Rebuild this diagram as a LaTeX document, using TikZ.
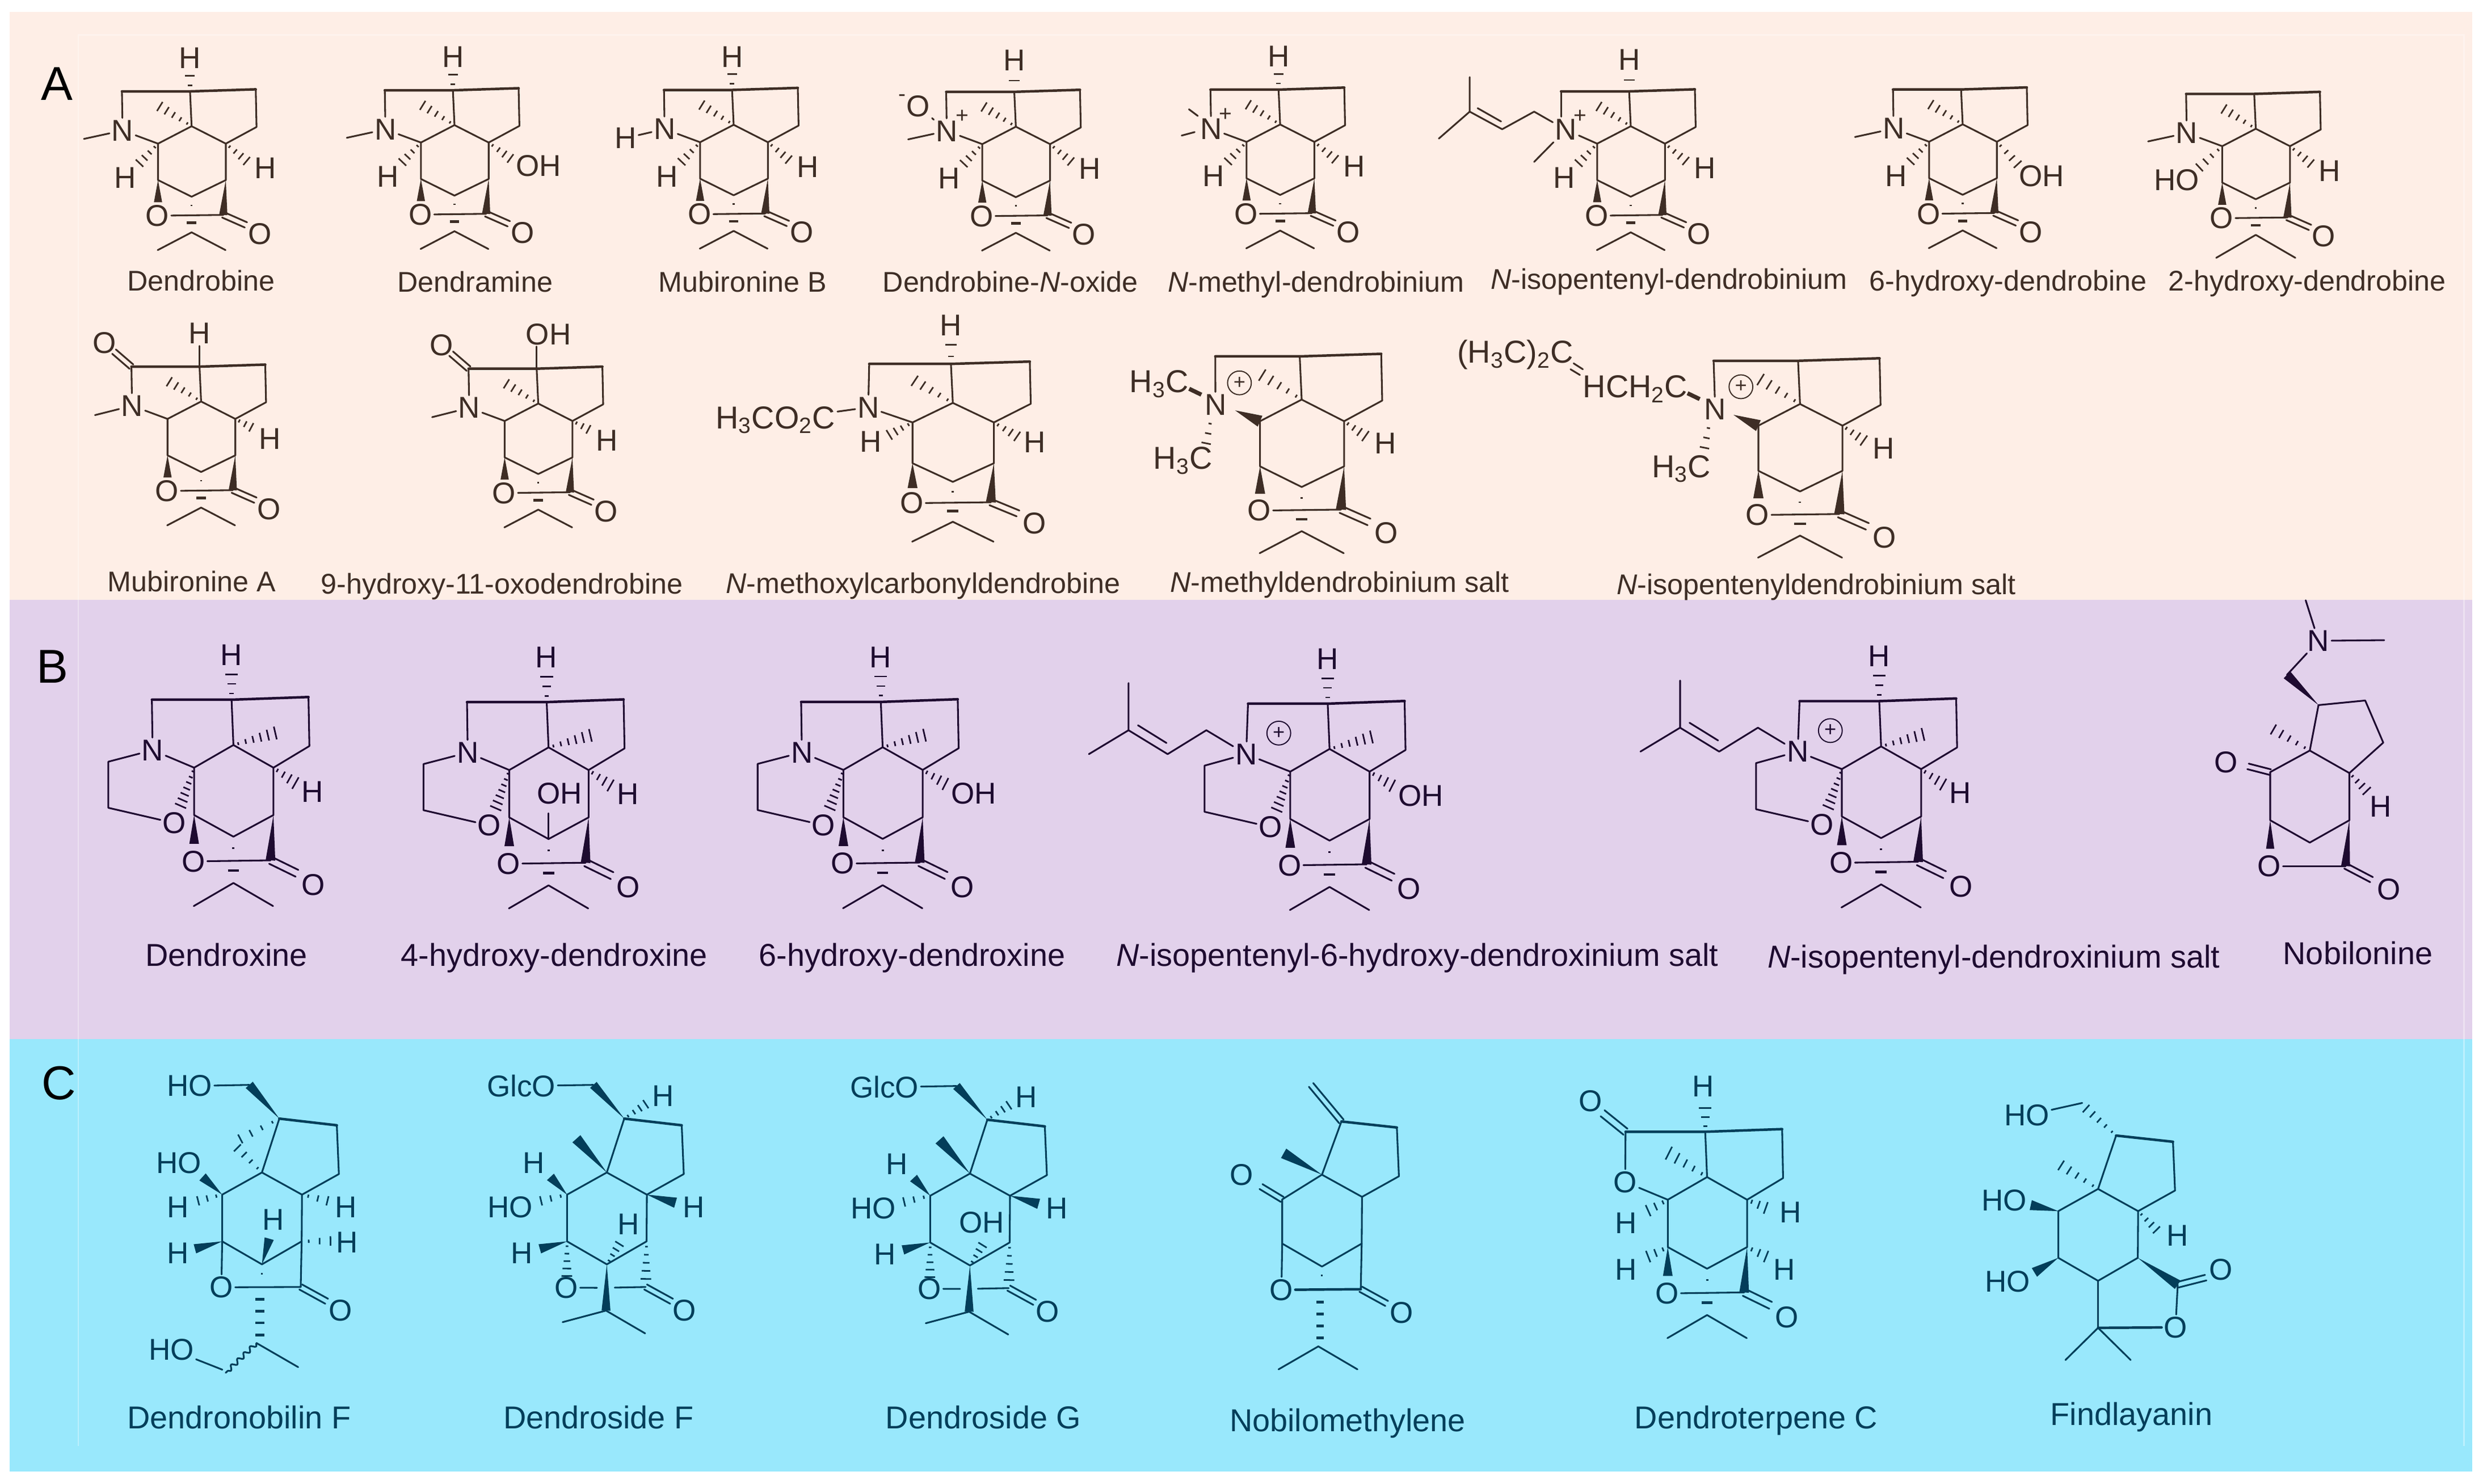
\documentclass[tikz,border=0pt]{standalone}
\usepackage{fontspec}
\setmainfont{Liberation Sans}
\usetikzlibrary{calc,decorations.pathmorphing}
\definecolor{bgA}{HTML}{FEEEE6}
\definecolor{bgB}{HTML}{E2D1EB}
\definecolor{bgC}{HTML}{99E8FC}
\definecolor{inkA}{HTML}{3E2D25}
\definecolor{inkB}{HTML}{1E0B30}
\definecolor{inkC}{HTML}{033E5A}
\colorlet{bcol}{inkA}
\newcommand\atomfont{\fontsize{19}{19}\selectfont}
\tikzset{
  bond/.style={draw=bcol,line width=1.1pt,line join=round,line cap=round},
  thk/.style={draw=bcol,line width=1.6pt,line join=round,line cap=round},
  hashl/.style={draw=bcol,line width=1pt},
  dashb/.style={draw=bcol,line width=1.6pt},
  atom/.style={text=bcol,inner sep=1.2pt,font=\atomfont},
  biga/.style={text=bcol,inner sep=1.2pt,font=\fontsize{20}{20}\selectfont},
  chgs/.style={text=bcol,inner sep=0pt,font=\fontsize{14}{14}\selectfont},
  plusc/.style={circle,draw=bcol,line width=.7pt,minimum size=15pt,inner sep=0pt,text=bcol,font=\fontsize{13}{13}\selectfont},
  panel/.style={font=\fontsize{30}{30}\selectfont,text=black,inner sep=0pt},
  capA/.style={anchor=base,text=inkA,inner sep=0pt,font=\fontsize{18}{20}\selectfont},
  capB/.style={anchor=base,text=inkB,inner sep=0pt,font=\fontsize{20}{22}\selectfont},
  capC/.style={anchor=base,text=inkC,inner sep=0pt,font=\fontsize{20}{22}\selectfont},
  mol/.style n args={4}{shift={(#1,#2)},xscale=#3,yscale=#4}
}
\newcommand\atm[3]{\node[atom] (#1) at (#2) {#3};}
\newcommand\bigat[3]{\node[biga] (#1) at (#2) {#3};}
\newcommand\hsh[4]{\foreach \hk in {1,...,#3}{%
  \pgfmathsetmacro\hT{(\hk-0.35)/#3}\pgfmathsetmacro\hW{#4*(\hT+.12)}%
  \draw[hashl] ($(#1)!\hT!(#2)!\hW pt!90:(#2)$) -- ($(#1)!\hT!(#2)!\hW pt!-90:(#2)$);}}
\newcommand\wdg[3][2.6]{\fill[bcol] (#2) -- ($(#3)!#1 pt!90:(#2)$) -- ($(#3)!#1 pt!-90:(#2)$) -- cycle;}
\newcommand\dbl[3][1.8]{\draw[bond] ($(#2)!#1 pt!90:(#3)$) -- ($(#3)!#1 pt!-90:(#2)$);
  \draw[bond] ($(#2)!#1 pt!-90:(#3)$) -- ($(#3)!#1 pt!90:(#2)$);}
\newcommand\corepts{\coordinate (C) at (0,0);\coordinate (T) at (-1,-22);\coordinate (TL) at (-44,-22);
  \coordinate (TR) at (40.5,-23.3);\coordinate (R) at (41,.5);\coordinate (L) at (-21.2,11);
  \coordinate (RR) at (21.6,11);\coordinate (LL) at (-21.2,34);\coordinate (LR) at (21.6,34);
  \coordinate (B) at (0,44.5);\coordinate (K) at (20,56);\coordinate (AP) at (0,67);
  \coordinate (IL) at (-21.4,78.2);\coordinate (IR) at (21.4,78.2);}
\newcommand\ringb{\draw[bond] (T)--(C)--(L)--(LL)--(B)--(LR)--(RR)--(C);\draw[bond] (RR)--(R)--(TR);\draw[thk] (TL)--(T)--(TR);}
\newcommand\lact{\atm{oR}{-21.6,56.5}{O}\atm{oX}{43,68}{O}\draw[bond] (oR)--(K);\dbl{K}{34.3,62.3}\wdg{LL}{-21.2,48}\wdg{LR}{K}}
\newcommand\isob{\draw[hashl] (-.6,50)--(.6,50);\draw[dashb] (-3,61)--(3,61);\draw[bond] (IL)--(AP)--(IR);}
\newcommand\methl{\hsh{C}{-21.6,-13.4}{5}{3.2}}
\newcommand\Hup{\atm{hT}{-1,-43}{H}\hsh{T}{-1,-34}{2}{3.2}}
\newcommand\Hl{\hsh{L}{-34,24.5}{4}{3.2}\atm{hL}{-42,32.6}{H}}
\newcommand\Hr{\hsh{RR}{36,23}{4}{3.2}\atm{hR}{46.7,26.6}{H}}
\newcommand\Nbase{\atm{nN}{-43.6,2.7}{N}\draw[bond] (TL)--(nN);\draw[bond] (nN)--(L);}
\newcommand\base{\corepts\ringb\lact\isob\methl}
% panel B core
\newcommand\BHup{\hsh{T}{-1,-36}{3}{3.4}\atm{hT}{-1.2,-43.8}{H}}
\newcommand\BHr{\hsh{RR}{34.6,19.2}{4}{3.2}\atm{hR}{42.7,22.6}{H}}
\newcommand\BOHr{\hsh{RR}{35,18.5}{4}{3.2}\atm{oH}{49.2,22.6}{OH}}
\newcommand\Bchain{\draw[bond] (nN)--(-66.5,-9.1)--(-87.4,2.5)--(-108.5,-9.1)--(-108.5,-32);
  \draw[bond] (-108.5,-9.1)--(-129.9,2.5);\draw[bond] (-103.4,-11.5)--(-88,-2.9);\node[plusc] (pl) at (-27.4,-7.7) {+};}
\newcommand\Bmethr{\hsh{C}{24,-6.2}{6}{3}}
% panel C core (canvas-relative)
\newcommand\ptsC{\coordinate (C) at (0,0);\coordinate (Q) at (11,-34);\coordinate (TR) at (47.3,-29.8);
  \coordinate (R) at (48.6,1);\coordinate (L) at (-25.1,14);\coordinate (RR) at (25.3,14);
  \coordinate (LL) at (-25.1,43.5);\coordinate (LR) at (25.1,43.5);\coordinate (B) at (0,58);
  \coordinate (K) at (24.5,72.3);\coordinate (ORp) at (-25.6,72.5);}
\newcommand\ringC{\draw[bond] (Q)--(C)--(L)--(LL)--(B)--(LR)--(RR)--(C);\draw[bond] (RR)--(R)--(TR);\draw[thk] (Q)--(TR);}
\newcommand\dside[1]{\ptsC\ringC\wdg[2.8]{Q}{-8.5,-55.3}
  \atm{gl}{-54,-54.6}{GlcO}\draw[bond] (gl)--(-8.5,-55.3);
  \hsh{Q}{25.9,-44}{4}{3}\atm{hA}{35.7,-48.2}{H}
  \wdg[3.4]{C}{-19.2,-21.3}
  \wdg[3]{L}{-35.6,2.8}\atm{hB}{-46.2,-6}{H}
  \hsh{L}{-43.7,18.4}{3}{3}\atm{hoA}{-61,22}{HO}
  \wdg[3]{LL}{-42.3,48.2}\atm{hC}{-53.7,51}{H}
  \wdg[3.3]{RR}{43.4,19.1}\atm{hD}{55,22}{H}
  \hsh{B}{8.7,43.9}{4}{3}#1
  \atm{oR}{-25.6,72.7}{O}\atm{oX}{49,87}{O}
  \hsh{LL}{-25.3,67}{5}{3.2}\hsh{LR}{24.6,69}{5}{3.2}
  \draw[bond] (oR)--(-6.2,72.8);\draw[bond] (5,72.7)--(K);\dbl{K}{40.9,81.3}
  \wdg[2.8]{B}{-.5,87.2}\draw[bond] (-27.9,94.5)--(-.5,87.2)--(24.2,101.6);}
\begin{document}
\begin{tikzpicture}[x=1pt,y=-1pt]
\useasboundingbox (0,0) rectangle (1568,936.66);
\fill[white] (0,0) rectangle (1568,936.66);
\fill[bgA] (6,7.5) rectangle (1561,378.8);
\fill[bgB] (6,378.8) rectangle (1561,656);
\fill[bgC] (6,656) rectangle (1561,929);
\draw[white,opacity=.35,line width=.8pt] (49.5,913) -- (49.5,22) -- (1556,22) -- (1556,913);
\node[panel] (lA) at (36,53) {A};
\node[panel] (lB) at (33,421) {B};
\node[panel] (lC) at (37,684) {C};
%%%%%%%%%%%% PANEL A
\colorlet{bcol}{inkA}
% Dendrobine
\begin{scope}[mol={121}{79.7}{1}{1}]
\base\Nbase\draw[bond] (nN)--(-68,8);\Hup\Hl\Hr
\end{scope}
% Dendramine
\begin{scope}[mol={287}{79}{1}{1}]
\base\Nbase\draw[bond] (nN)--(-68,8);\Hup\Hl\hsh{RR}{36.6,22}{4}{3.2}\atm{oH}{53,25.7}{OH}
\end{scope}
% Mubironine B
\begin{scope}[mol={463.3}{78.8}{1}{1}]
\base\Nbase\atm{hN}{-68.3,8.4}{H}\draw[bond] (hN)--(nN);\Hup\Hl\Hr
\end{scope}
% N-oxide
\begin{scope}[mol={641.5}{80}{1}{1}]
\base\Nbase\draw[bond] (nN)--(-68,8);\atm{hT}{-1,-42}{H}\hsh{T}{-1,-33}{1}{4.5}\Hl\Hr
\atm{oN}{-61.7,-13}{O}\draw[bond] (oN)--(nN);
\node[chgs] (mi) at (-71.9,-18) {-};\node[chgs] (pl) at (-34,-6.3) {+};
\end{scope}
% N-methyl
\begin{scope}[mol={808.4}{78.6}{1}{1}]
\base\Nbase\draw[bond] (-57.6,-9.6)--(-52,-5.4);\draw[bond] (-62.2,7)--(-54,4.8);\Hup\Hl\Hr
\node[chgs] (pl) at (-34.6,-6) {+};
\end{scope}
% N-isopentenyl
\begin{scope}[mol={1029.8}{79.7}{1}{1}]
\base\atm{nN}{-41,2.2}{N}\draw[bond] (TL)--(-44,-6);\draw[bond] (nN)--(L);
\atm{hT}{-1,-42}{H}\hsh{T}{-1,-33}{1}{4.5}\Hl\Hr
\node[chgs] (pl) at (-32,-6.2) {+};
\draw[bond] (nN)--(-61,-9.2)--(-81.2,1.9)--(-101.7,-9.2)--(-101.7,-31);
\draw[bond] (-101.7,-9.2)--(-121.2,7.8);\draw[bond] (-96.7,-11.4)--(-81.9,-3);
\draw[bond] (nN)--(-61,22.5);
\end{scope}
% 6-hydroxy
\begin{scope}[mol={1239.4}{78.5}{1}{1}]
\base\Nbase\draw[bond] (nN)--(-68,8);\Hl\hsh{RR}{36,26.6}{4}{3.2}\atm{oH}{49.8,32.6}{OH}
\end{scope}
% 2-hydroxy
\begin{scope}[mol={1424.5}{81.3}{1}{1}]
\corepts\ringb\lact\methl\draw[hashl] (-.6,50)--(.6,50);\draw[dashb] (-3,61)--(3,61);
\draw[bond] (-25,81.5)--(0,67)--(25,81.5);
\Nbase\draw[bond] (nN)--(-68,8);\hsh{L}{-37,25.7}{4}{3.2}\atm{hL}{-50,32.3}{HO}\Hr
\end{scope}
% Mubironine A
\begin{scope}[mol={127}{253.5}{1}{1}]
\base\Nbase\draw[bond] (nN)--(-67,8.6);
\atm{oT}{-61,-37}{O}\dbl{TL}{-55,-31.5}
\atm{hT}{-1,-43}{H}\draw[bond] (T)--(hT);
\hsh{RR}{33,17}{3}{3}\atm{hR}{43.4,23.4}{H}
\end{scope}
% 9-hydroxy-11-oxo
\begin{scope}[mol={339.9}{254.8}{1}{1}]
\base\Nbase\draw[bond] (nN)--(-67,8.6);
\atm{oT}{-61,-37}{O}\dbl{TL}{-55,-31.5}
\atm{hT}{6.5,-43.6}{OH}\draw[bond] (T)--(-1,-36);
\hsh{RR}{33,17}{3}{3}\atm{hR}{43.4,23.4}{H}
\end{scope}
% N-methoxycarbonyl
\begin{scope}[mol={601.7}{254.4}{1.2}{1.12}]
\base\atm{nN}{-44.5,2.5}{N}\draw[bond] (TL)--(nN);\draw[bond] (nN)--(L);
\bigat{tx}{-93.3,9.7}{H\textsubscript{3}CO\textsubscript{2}C}\draw[bond] (tx)--(nN);
\atm{hT}{-1,-43.7}{H}\hsh{T}{-1,-35}{2}{3.2}
\hsh{L}{-34.6,18.7}{4}{3}\atm{hL}{-43.3,21.8}{H}
\hsh{RR}{35,19.6}{4}{3}\atm{hR}{43.1,22.3}{H}
\end{scope}
% N-methyl salt
\begin{scope}[mol={822}{252.3}{1.24}{1.24}]
\base\atm{nN}{-43.9,2.5}{N}\draw[bond] (TL)--(nN);
\wdg[3]{-33.9,5.5}{L}
\node[plusc] (pl) at (-31.7,-8.5) {+};
\bigat{tx}{-72.6,-8}{H\textsubscript{3}C}\draw[line width=2.6pt,bcol] (-57.3,-5.5)--(-51.1,-2.5);
\bigat{ty}{-60.5,31}{H\textsubscript{3}C}\hsh{-46,9}{-49,24}{3}{2.4}
\hsh{RR}{33.5,19.3}{4}{3}\atm{hR}{42.7,22.4}{H}
\end{scope}
% N-isopentenyl salt
\begin{scope}[mol={1136.7}{255.1}{1.24}{1.24}]
\base\atm{nN}{-43.2,2.7}{N}\draw[bond] (TL)--(nN);
\wdg[3]{-33.9,5.5}{L}
\node[plusc] (pl) at (-30.1,-8.8) {+};
\bigat{tx}{-83.9,-7.7}{HCH\textsubscript{2}C}\draw[line width=2.6pt,bcol] (-57.3,-5.5)--(-51.1,-2.5);
\bigat{tz}{-145,-25}{(H\textsubscript{3}C)\textsubscript{2}C}
\draw[bond] (-115.3,-20.7)--(-110.6,-17.7);\draw[bond] (-116.9,-17.7)--(-112.1,-14.8);
\bigat{ty}{-60.5,33}{H\textsubscript{3}C}\hsh{-46,9}{-49,24}{3}{2.4}
\hsh{RR}{33.5,19.3}{4}{3}\atm{hR}{42.7,22.6}{H}
\end{scope}
\node[capA] (c1) at (127,183.5) {Dendrobine};
\node[capA] (c2) at (300,184.5) {Dendramine};
\node[capA] (c3) at (469,184.5) {Mubironine B};
\node[capA] (c4) at (638,184.5) {Dendrobine-\textit{N}-oxide};
\node[capA] (c5) at (831,184.5) {\textit{N}-methyl-dendrobinium};
\node[capA] (c6) at (1054,182.5) {\textit{N}-isopentenyl-dendrobinium};
\node[capA] (c7) at (1268,183.5) {6-hydroxy-dendrobine};
\node[capA] (c8) at (1457,183.5) {2-hydroxy-dendrobine};
\node[capA] (c9) at (121,373.5) {Mubironine A};
\node[capA] (c10) at (317,375) {9-hydroxy-11-oxodendrobine};
\node[capA] (c11) at (583,374.5) {\textit{N}-methoxylcarbonyldendrobine};
\node[capA] (c12) at (846,374) {\textit{N}-methyldendrobinium salt};
\node[capA] (c13) at (1147,375.5) {\textit{N}-isopentenyldendrobinium salt};
%%%%%%%%%%%% PANEL B
\colorlet{bcol}{inkB}
\begin{scope}[mol={147.4}{470.4}{1.17}{1.3}]
\corepts\ringb\lact\isob\Bmethr\atm{nN}{-43.6,2.5}{N}\draw[bond] (TL)--(nN);\draw[bond] (nN)--(L);
\atm{oA}{-31.9,37.9}{O}\draw[bond] (nN)--(-67.5,8.1)--(-67.5,30.5)--(oA);\hsh{L}{-28.9,30.5}{7}{3}
\BHup\BHr
\end{scope}
\begin{scope}[mol={346.4}{471.9}{1.17}{1.3}]
\corepts\ringb\lact\isob\Bmethr\atm{nN}{-43.6,2.5}{N}\draw[bond] (TL)--(nN);\draw[bond] (nN)--(L);
\atm{oA}{-31.9,37.9}{O}\draw[bond] (nN)--(-67.5,8.1)--(-67.5,30.5)--(oA);\hsh{L}{-28.9,30.5}{7}{3}
\BHup\BHr\atm{oM}{5.9,22.4}{OH}\draw[bond] (B)--(0,32);
\end{scope}
\begin{scope}[mol={557.4}{471.8}{1.17}{1.3}]
\corepts\ringb\lact\isob\Bmethr\atm{nN}{-43.6,2.5}{N}\draw[bond] (TL)--(nN);\draw[bond] (nN)--(L);
\atm{oA}{-31.9,37.9}{O}\draw[bond] (nN)--(-67.5,8.1)--(-67.5,30.5)--(oA);\hsh{L}{-28.9,30.5}{7}{3}
\BHup\BOHr
\end{scope}
\begin{scope}[mol={839.6}{472.9}{1.17}{1.3}]
\corepts\ringb\lact\isob\Bmethr\atm{nN}{-45,2.5}{N}\draw[bond] (TL)--(nN);\draw[bond] (nN)--(L);
\atm{oA}{-31.9,37.9}{O}\draw[bond] (nN)--(-67.5,8.1)--(-67.5,30.5)--(oA);\hsh{L}{-28.9,30.5}{7}{3}
\BHup\BOHr\Bchain
\end{scope}
\begin{scope}[mol={1187.9}{471.3}{1.17}{1.3}]
\corepts\ringb\lact\isob\Bmethr\atm{nN}{-45,2.5}{N}\draw[bond] (TL)--(nN);\draw[bond] (nN)--(L);
\atm{oA}{-31.9,37.9}{O}\draw[bond] (nN)--(-67.5,8.1)--(-67.5,30.5)--(oA);\hsh{L}{-28.9,30.5}{7}{3}
\BHup\BHr\Bchain
\end{scope}
% Nobilonine
\begin{scope}[shift={(1458.6,473.9)}]
\coordinate (C) at (0,0);\coordinate (Q) at (5.5,-28.7);\coordinate (TR) at (35,-31.6);\coordinate (R) at (46.4,-5);
\coordinate (RR) at (25,14.2);\coordinate (L) at (-25,13.6);\coordinate (LL) at (-25,44);\coordinate (LR) at (25,44);
\coordinate (B) at (0,58.1);\coordinate (K) at (22.6,72.9);\coordinate (CH) at (-14.4,-47.8);
\draw[bond] (Q)--(C)--(L)--(LL)--(B)--(LR)--(RR)--(C);\draw[bond] (RR)--(R)--(TR)--(Q);
\atm{oL}{-53,7.4}{O}\dbl{L}{-39,10}
\atm{oR}{-25.7,72.9}{O}\atm{oX}{49.9,87.7}{O}\draw[bond] (oR)--(K);\dbl{K}{39,81.5}
\wdg{LL}{-25,62}\wdg[2.8]{LR}{K}
\wdg[3]{Q}{CH}\atm{nN}{5.5,-69.3}{N}\draw[bond] (CH)--(nN);
\draw[bond] (nN)--(47,-69.7);\draw[bond] (nN)--(-2.6,-94.9);
\hsh{C}{-24.7,-14.3}{5}{3.4}
\hsh{RR}{37,26.6}{4}{3.4}\atm{hR}{44.9,35.3}{H}
\end{scope}
\node[capB] (c14) at (143,610.2) {Dendroxine};
\node[capB] (c15) at (350,610) {4-hydroxy-dendroxine};
\node[capB] (c16) at (576,610) {6-hydroxy-dendroxine};
\node[capB] (c17) at (895,610) {\textit{N}-isopentenyl-6-hydroxy-dendroxinium salt};
\node[capB] (c18) at (1259,611) {\textit{N}-isopentenyl-dendroxinium salt};
\node[capB] (c19) at (1489,609) {Nobilonine};
%%%%%%%%%%%% PANEL C
\colorlet{bcol}{inkC}
% Dendronobilin F
\begin{scope}[shift={(165.4,740.3)}]
\ptsC\ringC
\wdg[3]{Q}{-8,-55.3}\atm{hoT}{-45.7,-54.6}{HO}\draw[bond] (hoT)--(-8,-55.3);
\hsh{Q}{-16,-20}{4}{3}\hsh{C}{-17,-17}{4}{3}
\wdg[3]{L}{-37.5,2.8}\atm{hoA}{-52.6,-6}{HO}
\hsh{L}{-42.3,18.4}{3}{3}\atm{hA}{-53,22}{H}
\wdg[3]{LL}{-42.3,48.2}\atm{hB}{-53,51}{H}
\wdg[3]{B}{4.6,41.8}\atm{hM}{7.3,29.8}{H}
\hsh{RR}{43.5,18.4}{3}{3}\atm{hC}{53,22.1}{H}
\hsh{LR}{45.7,43.2}{3}{3}\atm{hD}{53.7,44}{H}
\atm{oR}{-25.6,72.5}{O}\atm{oX}{49.8,87.1}{O}
\draw[bond] (LL)--(oR);\draw[bond] (LR)--(K);\draw[bond] (oR)--(K);\dbl{K}{40.9,81.3}
\draw[hashl] (-.5,63.8)--(.5,63.8);
\foreach \yy in {80,87.5,95,102.7}{\draw[dashb] (-4,\yy)--(1.5,\yy);}
\coordinate (ch) at (-3.4,107.7);
\draw[bond] (ch)--(22.9,122.9);
\draw[bond,decorate,decoration={snake,amplitude=1.4pt,segment length=5.5pt}] (ch)--(-22.9,126.5);
\atm{hoB}{-57.2,111.8}{HO}\draw[bond] (hoB)--(-25,124.5);
\end{scope}
% Dendroside F
\begin{scope}[shift={(383.2,740.3)}]
\dside{\atm{hM}{13.7,32.6}{H}}
\end{scope}
% Dendroside G
\begin{scope}[shift={(612.5,741)}]
\dside{\atm{hM}{7.5,31}{OH}}
\end{scope}
% Nobilomethylene
\begin{scope}[shift={(834.8,741.7)}]
\ptsC\coordinate (Q) at (12.3,-33.6);\coordinate (L) at (-25.1,15.6);\ringC
\atm{oL}{-50.7,0}{O}\dbl{L}{-38.5,7.5}
\dbl{Q}{-6.9,-56.7}
\wdg[3.4]{C}{-24.2,-13.5}
\atm{oR}{-25.6,72.7}{O}\atm{oX}{50.3,87.3}{O}
\draw[bond] (LL)--(oR);\draw[bond] (LR)--(K);\draw[thk] (oR)--(K);\dbl{K}{40.9,81.3}
\draw[hashl] (-.5,63.5)--(.5,63.5);
\foreach \yy in {80.5,88,95.5,103}{\draw[dashb] (-3.6,\yy)--(1.2,\yy);}
\draw[bond] (-27.4,122.9)--(-2.3,108.4)--(22.4,122.9);
\end{scope}
% Dendroterpene C
\begin{scope}[mol={1078}{743.2}{1.17}{1.3}]
\corepts\ringb\lact\isob
\atm{oA}{-44.2,2.4}{O}\draw[bond] (TL)--(oA);\draw[bond] (oA)--(L);
\atm{oT}{-62.9,-37}{O}\dbl{TL}{-56.4,-31}
\atm{hT}{-2,-44.2}{H}\hsh{T}{-1,-35}{3}{3.4}
\hsh{C}{-22.2,-12.5}{5}{3.4}
\hsh{L}{-33.2,17}{3}{3}\atm{hA}{-43.8,22.3}{H}
\hsh{RR}{33,15.5}{3}{3}\atm{hB}{45,17}{H}
\hsh{LL}{-33.2,39.2}{3}{3}\atm{hC}{-43.8,44.9}{H}
\hsh{LR}{33.2,39.2}{3}{3}\atm{hD}{41.8,44.9}{H}
\end{scope}
% Findlayanin
\begin{scope}[shift={(1324.9,750.7)}]
\ptsC\coordinate (Q) at (11.4,-33.7);\coordinate (K) at (50.3,60.5);\ringC
\atm{hoT}{-45,-46.5}{HO}\draw[bond] (hoT)--(-10,-54.3);\hsh{Q}{-9,-52}{5}{3}
\hsh{C}{-25.1,-16}{5}{3.4}
\wdg[3.2]{L}{-42.5,10.2}\atm{hoA}{-59.4,7.4}{HO}
\wdg[3.2]{LL}{-40.2,52.7}\atm{hoB}{-57.1,58.4}{HO}
\hsh{RR}{38,27}{4}{3}\atm{hA}{50.3,29.3}{H}
\wdg[3.2]{LR}{K}
\atm{oX}{77.7,50.9}{O}\dbl{K}{68,56}
\atm{oR}{48.9,87.4}{O}\draw[bond] (K)--(oR);
\coordinate (qq) at (0,87.7);
\draw[bond] (B)--(qq);\draw[thk] (oR)--(qq);
\draw[bond] (-20.6,108)--(qq)--(20.6,108);
\end{scope}
\node[capC] (c20) at (151,902.2) {Dendronobilin F};
\node[capC] (c21) at (378,902.2) {Dendroside F};
\node[capC] (c22) at (621,902.2) {Dendroside G};
\node[capC] (c23) at (851,904) {Nobilomethylene};
\node[capC] (c24) at (1109,902) {Dendroterpene C};
\node[capC] (c25) at (1346,900) {Findlayanin};
\end{tikzpicture}
\end{document}
